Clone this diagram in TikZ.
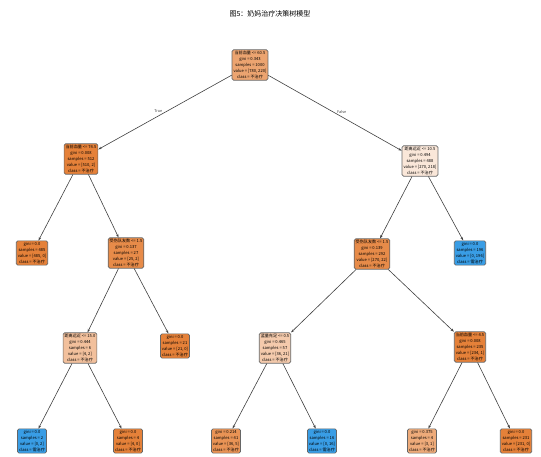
\documentclass[tikz,border=0pt]{standalone}
\usepackage{fontspec}
\setmainfont{Noto Sans CJK SC}
\usetikzlibrary{arrows.meta}
\definecolor{stopcol}{RGB}{229,129,57}
\definecolor{healcol}{RGB}{57,157,229}

\begin{document}
\begin{tikzpicture}[x=1pt, y=-1pt,
  font=\fontsize{4.1}{5.9}\selectfont,
  tnode/.style={draw=black!60, rounded corners=1.5pt, line width=0.7pt,
                align=center, inner sep=1.5pt},
  flow/.style={-{Stealth[length=3.5pt, width=2.4pt]}, line width=0.6pt, black!75},
  tflab/.style={font=\fontsize{3.8}{4}\selectfont}
]
  \useasboundingbox (0,0) rectangle (541,457);

  \node[font=\fontsize{7}{8}\selectfont] (title) at (270,14) {图5：奶妈治疗决策树模型};

  % level 0 and 1
  \node[tnode, fill=stopcol!72!white] (root) at (250,65)
    {当前血量 <= 60.5\\gini = 0.343\\samples = 1000\\value = [780, 220]\\class = 不治疗};
  \node[tnode, fill=stopcol] (hpl) at (81,159)
    {当前血量 <= 74.5\\gini = 0.008\\samples = 512\\value = [510, 2]\\class = 不治疗};
  \node[tnode, fill=stopcol!19!white] (dist) at (420,161)
    {距离远近 <= 10.5\\gini = 0.494\\samples = 488\\value = [270, 218]\\class = 不治疗};

  % level 2
  \node[tnode, fill=stopcol] (leafa) at (32,253)
    {gini = 0.0\\samples = 485\\value = [485, 0]\\class = 不治疗};
  \node[tnode, fill=stopcol!92!white] (matel) at (126,253)
    {受伤队友数 <= 1.5\\gini = 0.137\\samples = 27\\value = [25, 2]\\class = 不治疗};
  \node[tnode, fill=stopcol!92!white] (mater) at (372,254)
    {受伤队友数 <= 1.5\\gini = 0.139\\samples = 292\\value = [270, 22]\\class = 不治疗};
  \node[tnode, fill=healcol] (leafb) at (470,253)
    {gini = 0.0\\samples = 196\\value = [0, 196]\\class = 需治疗};

  % level 3
  \node[tnode, fill=stopcol!50!white] (distl) at (80,348)
    {距离远近 <= 15.0\\gini = 0.444\\samples = 6\\value = [4, 2]\\class = 不治疗};
  \node[tnode, fill=stopcol] (leafc) at (175,346)
    {gini = 0.0\\samples = 21\\value = [21, 0]\\class = 不治疗};
  \node[tnode, fill=stopcol!42!white] (mana) at (275,348)
    {蓝量充足 <= 0.5\\gini = 0.465\\samples = 57\\value = [36, 21]\\class = 不治疗};
  \node[tnode, fill=stopcol] (hpr) at (470,347)
    {当前血量 <= 4.5\\gini = 0.008\\samples = 235\\value = [234, 1]\\class = 不治疗};

  % level 4
  \node[tnode, fill=healcol] (leafd) at (32,441)
    {gini = 0.0\\samples = 2\\value = [0, 2]\\class = 需治疗};
  \node[tnode, fill=stopcol] (leafe) at (128,441)
    {gini = 0.0\\samples = 4\\value = [4, 0]\\class = 不治疗};
  \node[tnode, fill=stopcol!86!white] (leaff) at (226,441)
    {gini = 0.214\\samples = 41\\value = [36, 5]\\class = 不治疗};
  \node[tnode, fill=healcol] (leafg) at (322,441)
    {gini = 0.0\\samples = 16\\value = [0, 16]\\class = 需治疗};
  \node[tnode, fill=stopcol!67!white] (leafh) at (422,441)
    {gini = 0.375\\samples = 4\\value = [3, 1]\\class = 不治疗};
  \node[tnode, fill=stopcol] (leafi) at (516,441)
    {gini = 0.0\\samples = 231\\value = [231, 0]\\class = 不治疗};

  \draw[flow] (root) -- node[tflab, above, pos=0.55] {True} (hpl);
  \draw[flow] (root) -- node[tflab, above, pos=0.55] {False} (dist);
  \draw[flow] (hpl) -- (leafa);
  \draw[flow] (hpl) -- (matel);
  \draw[flow] (dist) -- (mater);
  \draw[flow] (dist) -- (leafb);
  \draw[flow] (matel) -- (distl);
  \draw[flow] (matel) -- (leafc);
  \draw[flow] (mater) -- (mana);
  \draw[flow] (mater) -- (hpr);
  \draw[flow] (distl) -- (leafd);
  \draw[flow] (distl) -- (leafe);
  \draw[flow] (mana) -- (leaff);
  \draw[flow] (mana) -- (leafg);
  \draw[flow] (hpr) -- (leafh);
  \draw[flow] (hpr) -- (leafi);
\end{tikzpicture}
\end{document}
